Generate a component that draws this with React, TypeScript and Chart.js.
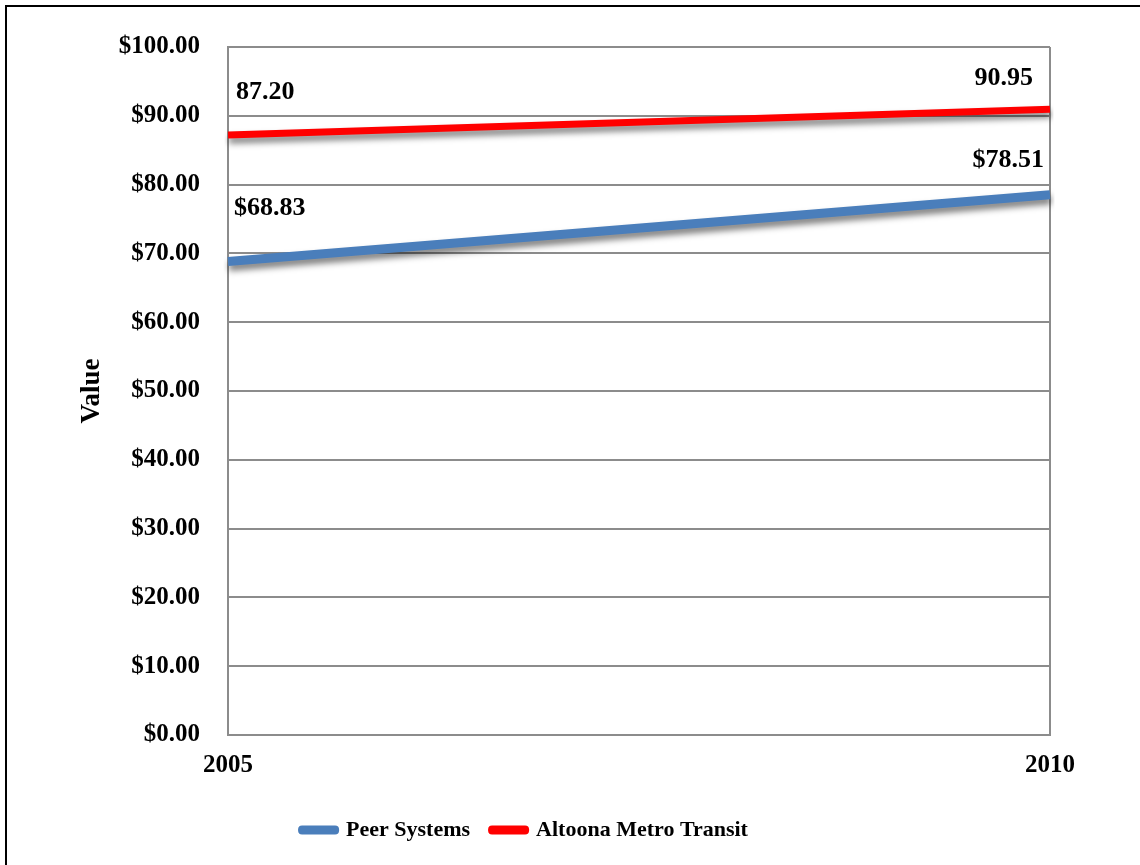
import React, { useEffect, useRef } from "react";
import { Chart, registerables } from "chart.js";

Chart.register(...registerables);

const years = ["2005", "2010"];
const peerSystems = [68.83, 78.51];
const altoonaMetro = [87.2, 90.95];
const seriesNames = ["Peer Systems", "Altoona Metro Transit"];
const seriesColors = ["#4A7EBB", "#FF0000"];
const yMin = 0;
const yMax = 100;
const yStep = 10;

const FONT = "'Liberation Serif', 'Times New Roman', 'DejaVu Serif', serif";

// label placement (style only): per dataset, per point
const labelPlacement = [
  [
    { dx: 6, dy: -53, align: "left" as CanvasTextAlign },
    { dx: -6, dy: -35, align: "right" as CanvasTextAlign },
  ],
  [
    { dx: 8, dy: -43, align: "left" as CanvasTextAlign },
    { dx: -17, dy: -31, align: "right" as CanvasTextAlign },
  ],
];

const labelFormat = [
  (v: number) => "$" + v.toFixed(2),
  (v: number) => v.toFixed(2),
];

const shadowPlugin = {
  id: "lineShadow",
  beforeDatasetDraw(chart: any) {
    const ctx = chart.ctx;
    ctx.save();
    ctx.shadowColor = "rgba(0,0,0,0.5)";
    ctx.shadowBlur = 6;
    ctx.shadowOffsetX = 1;
    ctx.shadowOffsetY = 5;
  },
  afterDatasetDraw(chart: any) {
    chart.ctx.restore();
  },
};

const dataLabelPlugin = {
  id: "dataLabels",
  afterDatasetsDraw(chart: any) {
    const ctx = chart.ctx;
    ctx.save();
    ctx.font = `bold 26px ${FONT}`;
    ctx.fillStyle = "#000";
    ctx.textBaseline = "middle";
    chart.data.datasets.forEach((ds: any, di: number) => {
      const meta = chart.getDatasetMeta(di);
      meta.data.forEach((pt: any, i: number) => {
        const p = labelPlacement[di][i];
        ctx.textAlign = p.align;
        ctx.fillText(labelFormat[di](ds.data[i]), pt.x + p.dx, pt.y + p.dy);
      });
    });
    ctx.restore();
  },
};

export default function App() {
  const canvasRef = useRef<HTMLCanvasElement>(null);

  useEffect(() => {
    if (!canvasRef.current) return;
    const chart = new Chart(canvasRef.current, {
      type: "line",
      data: {
        labels: years,
        datasets: [
          {
            label: seriesNames[0],
            data: peerSystems,
            borderColor: seriesColors[0],
            backgroundColor: seriesColors[0],
            borderWidth: 9,
            pointRadius: 0,
            tension: 0,
          },
          {
            label: seriesNames[1],
            data: altoonaMetro,
            borderColor: seriesColors[1],
            backgroundColor: seriesColors[1],
            borderWidth: 7,
            pointRadius: 0,
            tension: 0,
          },
        ],
      },
      options: {
        animation: false,
        responsive: true,
        maintainAspectRatio: false,
        layout: { padding: { left: 0, right: 90, top: 47, bottom: 14 } },
        plugins: {
          tooltip: { enabled: false },
          legend: {
            position: "bottom",
            labels: {
              font: { family: FONT, size: 22, weight: "bold" },
              color: "#000",
              padding: 22,
              boxWidth: 33,
              boxHeight: 1,
              generateLabels: (c: any) =>
                c.data.datasets.map((ds: any, i: number) => ({
                  text: ds.label,
                  fillStyle: ds.borderColor,
                  strokeStyle: ds.borderColor,
                  lineWidth: 8,
                  lineCap: "round",
                  lineJoin: "round",
                  hidden: false,
                  datasetIndex: i,
                  fontColor: "#000",
                })),
            },
          },
        },
        scales: {
          x: {
            type: "category",
            offset: false,
            grid: { color: "#8c8c8c", lineWidth: 2, drawTicks: false },
            border: { color: "#8c8c8c", width: 2 },
            ticks: {
              font: { family: FONT, size: 25, weight: "bold" },
              color: "#000",
              padding: 16,
              maxRotation: 0,
            },
            afterFit: (s: any) => {
              s.height = 62;
            },
          },
          y: {
            min: yMin,
            max: yMax,
            grid: { color: "#8c8c8c", lineWidth: 2, drawTicks: false },
            border: { color: "#8c8c8c", width: 2 },
            ticks: {
              stepSize: yStep,
              font: { family: FONT, size: 25, weight: "bold" },
              color: "#000",
              padding: 28,
              callback: (v: any) => "$" + Number(v).toFixed(2),
            },
            title: {
              display: true,
              text: "Value",
              font: { family: FONT, size: 27, weight: "bold" },
              color: "#000",
              padding: { top: 76, bottom: 0 },
            },
            afterFit: (s: any) => {
              s.width = 228;
            },
          },
        },
      },
      plugins: [shadowPlugin, dataLabelPlugin],
    } as any);
    return () => chart.destroy();
  }, []);

  return (
    <div
      style={{
        position: "absolute",
        left: 0,
        top: 0,
        width: 1140,
        height: 865,
        background: "#fff",
        overflow: "hidden",
      }}
    >
      <div
        style={{
          position: "absolute",
          left: 5,
          top: 5,
          width: 1140,
          height: 870,
          borderTop: "2px solid #000",
          borderLeft: "2px solid #000",
        }}
      />
      <div style={{ position: "absolute", left: 0, top: 0, width: 1140, height: 865 }}>
        <canvas ref={canvasRef} />
      </div>
    </div>
  );
}
